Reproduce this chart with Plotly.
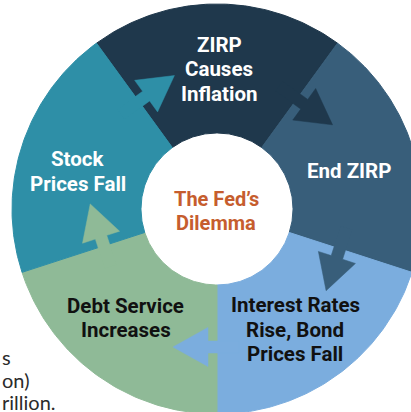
import numpy as np
import plotly.graph_objects as go

# stages of the cycle, clockwise starting at the top
stages = ["ZIRP<br>Causes<br>Inflation", "End ZIRP",
          "Interest Rates<br>Rise, Bond<br>Prices Fall",
          "Debt Service<br>Increases", "Stock<br>Prices Fall"]
weights = [1, 1, 1, 1, 1]
slice_colors = ["#1f384c", "#385e7a", "#7badde", "#8fba97", "#2e8fa7"]
label_colors = ["white", "white", "#111111", "#111111", "white"]
center_label = ["The Fed’s", "Dilemma"]
edge_text = ["s", "on)", "rillion."]   # text of the page behind, cut by the crop

# layout (pixels)
W, H = 411, 412
CX, CY = 217, 209
R_OUT, R_IN = 205, 76
START = 126          # first slice starts here, degrees ccw from east
LINE = 24.5          # line pitch of labels
label_r = [140, 137, 144, 142, 144]
label_dang = [-1, -2, -3, -4, 3]
arrow_r = [136, 129, 138, 119, 133]   # arrow sits on the boundary after slice i
SHAFT, HEAD, BACK, BASE, TIP = 6, 19.5, -22, 9, 44

frac = np.cumsum([0] + weights) / sum(weights) * 360
a0 = START - frac[:-1]
a1 = START - frac[1:]

fig = go.Figure()

for i in range(len(stages)):
    t = np.radians(np.linspace(a0[i], a1[i], 80))
    x = np.concatenate([R_OUT * np.cos(t), R_IN * np.cos(t[::-1])])
    y = np.concatenate([R_OUT * np.sin(t), R_IN * np.sin(t[::-1])])
    fig.add_trace(go.Scatter(x=np.append(x, x[0]), y=np.append(y, y[0]), mode="lines",
                             fill="toself", fillcolor=slice_colors[i],
                             line=dict(color=slice_colors[i], width=1), hoverinfo="skip"))

# block arrows across each boundary, coloured like the slice they leave
s_pts = np.array([BACK, BASE, BASE, TIP, BASE, BASE, BACK, BACK])
w_pts = np.array([-SHAFT, -SHAFT, -HEAD, 0, HEAD, SHAFT, SHAFT, -SHAFT])
for i in range(len(stages)):
    th = np.radians(a1[i])
    n = np.array([np.cos(th), np.sin(th)])
    d = np.array([np.sin(th), -np.cos(th)])
    p = arrow_r[i] * n
    ax = p[0] + s_pts * d[0] + w_pts * n[0]
    ay = p[1] + s_pts * d[1] + w_pts * n[1]
    fig.add_trace(go.Scatter(x=ax, y=ay, mode="lines", fill="toself",
                             fillcolor=slice_colors[i],
                             line=dict(color=slice_colors[i], width=0.5), hoverinfo="skip"))

def add_lines(lines, x0, y0, color, size, family="Roboto", weight="bold"):
    k = len(lines)
    for j, txt in enumerate(lines):
        fig.add_annotation(x=x0, y=y0 + ((k - 1) / 2 - j) * LINE, text=txt,
                           xref="x", yref="y", showarrow=False,
                           xanchor="center", yanchor="middle",
                           font=dict(family=family, size=size, color=color, weight=weight))

mid = (a0 + a1) / 2
for i, lab in enumerate(stages):
    ang = np.radians(mid[i] + label_dang[i])
    add_lines(lab.split("<br>"), label_r[i] * np.cos(ang), label_r[i] * np.sin(ang),
              label_colors[i], 20.5)

add_lines(center_label, -1, -2, "#c65d2e", 20)

for j, txt in enumerate(edge_text):
    fig.add_annotation(x=-CX, y=CY - (357 + 22.5 * j), text=txt, xref="x", yref="y",
                       showarrow=False, xanchor="left", yanchor="middle",
                       font=dict(family="Lato", size=20, color="#2b2b2b"))

fig.update_xaxes(range=[-CX, W - CX], visible=False, fixedrange=True)
fig.update_yaxes(range=[-(H - CY), CY], visible=False, fixedrange=True)
fig.update_layout(width=W, height=H, margin=dict(l=0, r=0, t=0, b=0),
                  showlegend=False, plot_bgcolor="white", paper_bgcolor="white")

fig.write_html("out.html", config={"displayModeBar": False},
               post_script="document.body.style.margin='0';")
